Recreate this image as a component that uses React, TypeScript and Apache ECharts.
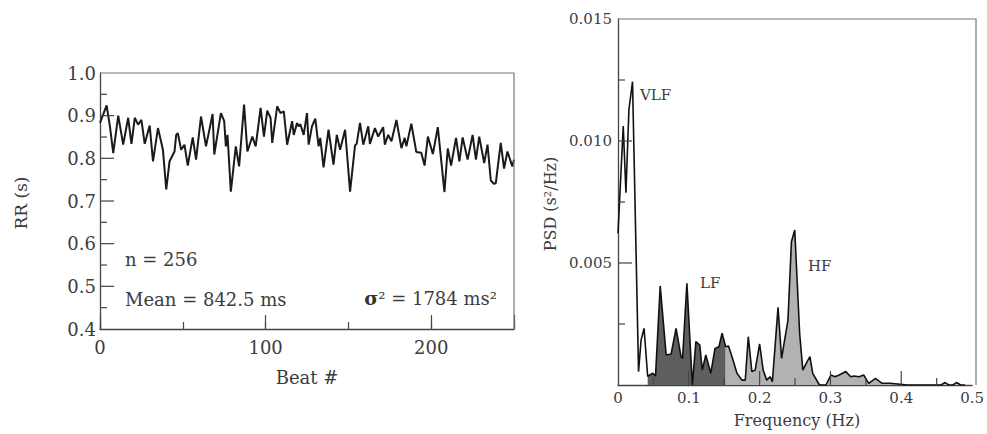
import React, { useEffect, useRef } from "react";
import * as echarts from "echarts";

// Left panel: RR interval tachogram (beat #, seconds)
const beats = [
  0, 4, 6, 8, 11, 14, 17, 19, 21, 23, 25, 27, 30, 32, 35, 38, 40, 42, 45, 46,
  47, 49, 51, 53, 56, 58, 61, 64, 68, 69, 73, 75, 76, 77, 79, 82, 84, 87, 89, 92,
  94, 97, 99, 101, 103, 104, 107, 109, 111, 113, 116, 117, 119, 120, 121, 123, 125, 126, 128, 130,
  132, 133, 135, 138, 141, 143, 145, 148, 151, 154, 155, 157, 159, 162, 163, 166, 168, 171, 172, 174,
  176, 179, 182, 184, 185, 188, 191, 194, 196, 198, 201, 204, 208, 210, 212, 215, 217, 219, 222, 225,
  227, 229, 232, 234, 236, 238, 239, 242, 244, 246, 249, 250,
];
const rr = [
  0.883, 0.924, 0.875, 0.812, 0.9, 0.832, 0.895, 0.834, 0.895, 0.879, 0.89, 0.834, 0.877, 0.793, 0.871, 0.82, 0.727, 0.793, 0.816, 0.855,
  0.859, 0.82, 0.832, 0.783, 0.849, 0.797, 0.898, 0.828, 0.904, 0.809, 0.906, 0.887, 0.828, 0.855, 0.722, 0.828, 0.781, 0.926, 0.816, 0.851,
  0.828, 0.918, 0.851, 0.912, 0.895, 0.836, 0.922, 0.906, 0.91, 0.832, 0.887, 0.855, 0.883, 0.875, 0.88, 0.855, 0.906, 0.832, 0.875, 0.893,
  0.828, 0.848, 0.779, 0.867, 0.785, 0.855, 0.82, 0.867, 0.722, 0.83, 0.834, 0.883, 0.832, 0.875, 0.834, 0.871, 0.851, 0.873, 0.832, 0.855,
  0.84, 0.89, 0.824, 0.848, 0.828, 0.881, 0.815, 0.813, 0.783, 0.851, 0.81, 0.873, 0.721, 0.823, 0.783, 0.848, 0.793, 0.849, 0.797, 0.855,
  0.797, 0.851, 0.789, 0.832, 0.748, 0.74, 0.742, 0.836, 0.776, 0.816, 0.781, 0.797,
];

// Right panel: power spectral density (Hz, s^2/Hz)
const freq = [
  0.0, 0.0074, 0.0112, 0.0154, 0.0205, 0.029, 0.0326, 0.0368, 0.0419, 0.0447, 0.0493, 0.053, 0.0596, 0.068, 0.075, 0.082, 0.089, 0.0912, 0.0973, 0.105,
  0.11, 0.1155, 0.119, 0.124, 0.131, 0.137, 0.1425, 0.147, 0.152, 0.156, 0.161, 0.168, 0.175, 0.1797, 0.184, 0.189, 0.1937, 0.2, 0.205, 0.21,
  0.2147, 0.218, 0.226, 0.231, 0.24, 0.2449, 0.2496, 0.2565, 0.261, 0.2658, 0.271, 0.275, 0.2845, 0.2937, 0.3007, 0.3063, 0.3124, 0.3217, 0.3287, 0.3333,
  0.3403, 0.347, 0.354, 0.3636, 0.373, 0.3845, 0.3985, 0.408, 0.456, 0.462, 0.467, 0.473, 0.478, 0.484, 0.49,
];
const psd = [
  0.00622, 0.01061, 0.00788, 0.01127, 0.01243, 0.00055, 0.00184, 0.00232, 0.00035, 0.00041, 0.00048, 0.00037, 0.00406, 0.00123, 0.00127, 0.00232, 0.00116, 0.00109, 0.00417, 0.0,
  0.00178, 0.00164, 0.00061, 0.00123, 0.00048, 0.0015, 0.00157, 0.00212, 0.00157, 0.0016, 0.00116, 0.00048, 0.0002, 0.0002, 0.00198, 0.00055, 0.00061, 0.00168, 0.00061, 0.0002,
  0.00034, 0.00014, 0.00318, 0.00109, 0.00266, 0.00587, 0.00635, 0.00212, 0.00061, 0.00089, 0.00116, 0.00048, 0.0, 0.0, 0.00041, 0.00034, 0.00041, 0.00055, 0.00034, 0.00037,
  0.00034, 0.00041, 0.00007, 0.00027, 0.00007, 0.00007, 0.00003, 0.0, 0.0, 0.0001, 0.0, 0.0, 0.0001, 0.0, 0.0,
];

const lfBand = [0.0419, 0.152];
const hfBand = [0.152, 0.408];

// Tick positions (major ticks carry labels, the others are short minor ticks)
const leftYTicks = [0.45, 0.5, 0.55, 0.6, 0.65, 0.7, 0.75, 0.8, 0.85, 0.9, 0.95];
const leftYMajor = [0.5, 0.6, 0.7, 0.8, 0.9];
const rightYTicks = [0.0025, 0.005, 0.0075, 0.01, 0.0125];
const rightYMajor = [0.005, 0.01];
const rightXTicks = [0.05, 0.1, 0.15, 0.2, 0.25, 0.3, 0.35, 0.4, 0.45];
const rightXMajor = [0.1, 0.2, 0.3, 0.4];

const FONT = "'DejaVu Serif', serif";
const TXT = "#3c3c3c";
const AX = "#444";
const BORDER = "#777";
const MAJOR_LEN = 14;
const MINOR_LEN = 7;

const G1 = { left: 100, top: 73, width: 414, height: 256 };
const G2 = { left: 618, top: 19, width: 358, height: 366 };

export default function App() {
  const ref = useRef<HTMLDivElement>(null);

  useEffect(() => {
    if (!ref.current) return;
    const chart = echarts.init(ref.current, undefined, { renderer: "svg" });

    const rrData = beats.map((b, i) => [b, rr[i]]);
    const psdData = freq.map((f, i) => [f, psd[i]]);
    const lfData = psdData.filter((d) => d[0] >= lfBand[0] && d[0] <= lfBand[1]);
    const hfData = psdData.filter((d) => d[0] >= hfBand[0] && d[0] <= hfBand[1]);

    const isMajor = (list: number[], v: number) => list.some((m) => Math.abs(m - v) < 1e-9);

    const axisLine = () => ({ show: true, onZero: false, lineStyle: { color: AX, width: 1.3 } });
    const tick = (len: number) => ({ show: true, inside: true, length: len, lineStyle: { color: AX, width: 1.2 } });
    const label = (size: number, margin: number, fmt: (v: number) => string) => ({
      show: true,
      color: TXT,
      fontSize: size,
      fontFamily: FONT,
      margin,
      formatter: fmt,
    });

    // Inward tick marks placed through the axes' own coordinate system
    const tickSeries = (
      xAxisIndex: number,
      yAxisIndex: number,
      values: number[],
      major: number[],
      dir: "x" | "y",
      base: number
    ) => ({
      type: "custom",
      xAxisIndex,
      yAxisIndex,
      silent: true,
      clip: false,
      z: 6,
      data: values.map((v) => [v, isMajor(major, v) ? MAJOR_LEN : MINOR_LEN]),
      renderItem: (_params: any, api: any) => {
        const v = api.value(0);
        const len = api.value(1);
        if (dir === "y") {
          const p = api.coord([base, v]);
          return {
            type: "line",
            shape: { x1: p[0], y1: p[1], x2: p[0] + len, y2: p[1] },
            style: { stroke: AX, lineWidth: 1.2 },
          };
        }
        const p = api.coord([v, base]);
        return {
          type: "line",
          shape: { x1: p[0], y1: p[1], x2: p[0], y2: p[1] - len },
          style: { stroke: AX, lineWidth: 1.2 },
        };
      },
    });

    const text = (
      t: string,
      x: number,
      y: number,
      size: number,
      align: string = "left",
      rotation = 0
    ) => ({
      type: "text",
      x,
      y,
      rotation,
      style: {
        text: t,
        fill: TXT,
        font: `${size}px ${FONT}`,
        align,
        verticalAlign: "middle",
      },
    });

    const frame = (g: { left: number; top: number; width: number; height: number }) => ({
      type: "polyline",
      silent: true,
      z: 10,
      shape: {
        points: [
          [g.left, g.top],
          [g.left + g.width, g.top],
          [g.left + g.width, g.top + g.height],
        ],
      },
      style: { stroke: BORDER, lineWidth: 1.2, fill: "none" },
    });

    chart.setOption({
      animation: false,
      backgroundColor: "#fff",
      grid: [G1, G2],
      xAxis: [
        {
          type: "value",
          gridIndex: 0,
          position: "bottom",
          min: 0,
          max: 250,
          interval: 100,
          axisLine: axisLine(),
          axisTick: tick(MAJOR_LEN),
          axisLabel: label(18, 9, (v: number) => (v % 100 === 0 ? String(v) : "")),
          splitLine: { show: false },
        },
        {
          type: "value",
          gridIndex: 0,
          position: "bottom",
          min: 0,
          max: 250,
          interval: 50,
          axisLine: { show: false },
          axisTick: tick(MINOR_LEN),
          axisLabel: { show: false },
          splitLine: { show: false },
        },
        {
          type: "value",
          gridIndex: 1,
          position: "bottom",
          min: 0,
          max: 0.5,
          interval: 0.1,
          axisLine: axisLine(),
          axisTick: { show: false },
          axisLabel: label(15, 5, (v: number) => (v === 0 ? "0" : v.toFixed(1))),
          splitLine: { show: false },
        },
      ],
      yAxis: [
        {
          type: "value",
          gridIndex: 0,
          position: "left",
          min: 0.4,
          max: 1.0,
          interval: 0.1,
          axisLine: axisLine(),
          axisTick: { show: false },
          axisLabel: label(18, 4, (v: number) => v.toFixed(1)),
          splitLine: { show: false },
        },
        {
          type: "value",
          gridIndex: 1,
          position: "left",
          min: 0,
          max: 0.015,
          interval: 0.005,
          axisLine: axisLine(),
          axisTick: { show: false },
          axisLabel: label(15, 6, (v: number) => (v === 0 ? "" : v.toFixed(3))),
          splitLine: { show: false },
        },
      ],
      series: [
        {
          type: "line",
          xAxisIndex: 0,
          yAxisIndex: 0,
          data: rrData,
          showSymbol: false,
          clip: true,
          lineStyle: { color: "#1a1a1a", width: 2 },
          z: 3,
        },
        {
          type: "line",
          xAxisIndex: 2,
          yAxisIndex: 1,
          data: lfData,
          showSymbol: false,
          lineStyle: { width: 0 },
          areaStyle: { color: "#5e5e5e", opacity: 1 },
          z: 1,
        },
        {
          type: "line",
          xAxisIndex: 2,
          yAxisIndex: 1,
          data: hfData,
          showSymbol: false,
          lineStyle: { width: 0 },
          areaStyle: { color: "#b2b2b2", opacity: 1 },
          z: 1,
        },
        {
          type: "line",
          xAxisIndex: 2,
          yAxisIndex: 1,
          data: psdData,
          showSymbol: false,
          clip: true,
          lineStyle: { color: "#111", width: 1.6 },
          z: 3,
        },
        tickSeries(0, 0, leftYTicks, leftYMajor, "y", 0),
        tickSeries(2, 1, rightYTicks, rightYMajor, "y", 0),
        tickSeries(2, 1, rightXTicks, rightXMajor, "x", 0),
      ],
      graphic: [
        frame(G1),
        frame(G2),
        text("n = 256", 125, 259, 18),
        text("Mean = 842.5 ms", 125, 299, 18),
        {
          type: "text",
          x: 497,
          y: 298,
          style: {
            text: "{b|σ}² = 1784 ms²",
            fill: TXT,
            font: `18px ${FONT}`,
            align: "right",
            verticalAlign: "middle",
            rich: { b: { fontWeight: "bold", fontSize: 19, fontFamily: FONT, fill: "#333" } },
          },
        },
        text("Beat #", 307, 377, 18, "center"),
        text("RR (s)", 21, 203, 17, "center", Math.PI / 2),
        text("VLF", 640, 95, 15),
        text("LF", 700, 283, 15),
        text("HF", 808, 266, 15),
        text("Frequency (Hz)", 797, 420, 16, "center"),
        text("PSD (s²/Hz)", 550, 204, 16, "center", Math.PI / 2),
      ],
    });

    return () => chart.dispose();
  }, []);

  return (
    <div
      ref={ref}
      style={{ position: "absolute", left: 0, top: 0, width: 987, height: 434, background: "#fff" }}
    />
  );
}
